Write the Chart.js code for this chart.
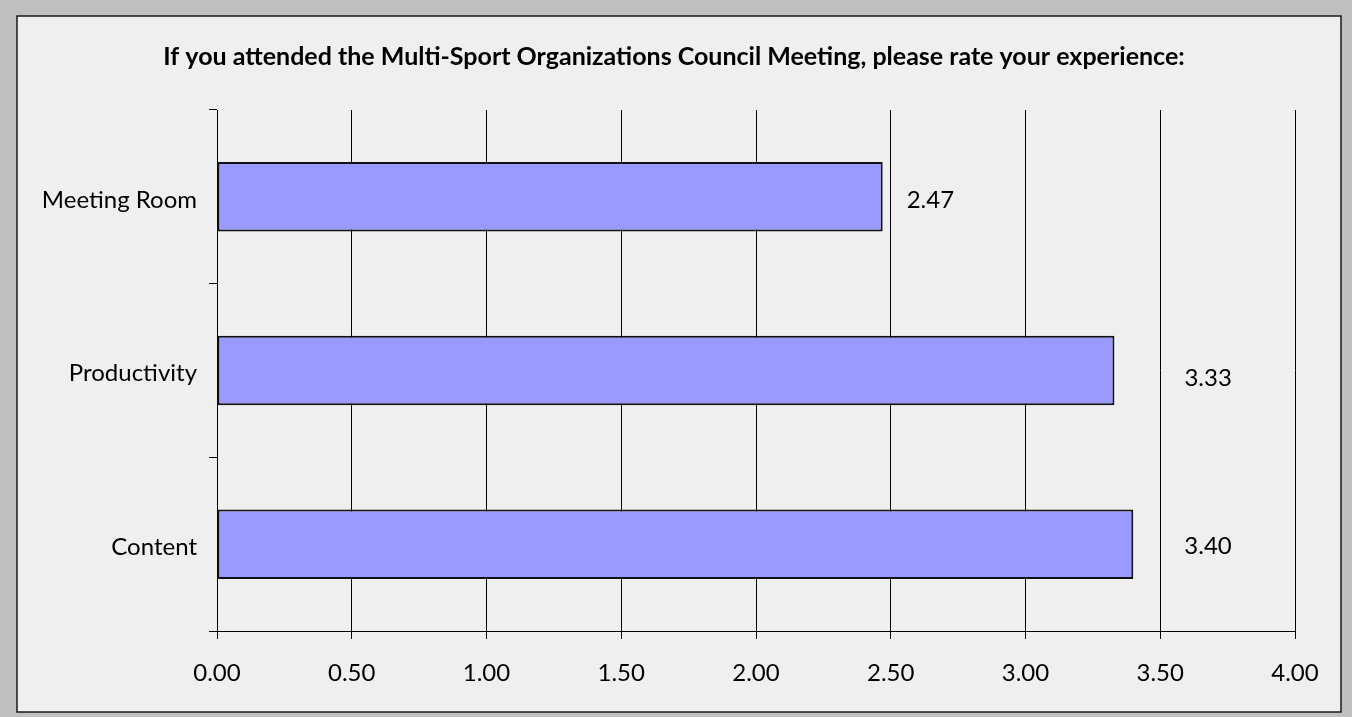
<!DOCTYPE html>
<html>
<head>
<meta charset="utf-8">
<script src="https://cdn.jsdelivr.net/npm/chart.js@4.4.1/dist/chart.umd.min.js"></script>
<style>
  html, body { margin: 0; padding: 0; background: #c0c0c0; }
  canvas { display: block; }
</style>
</head>
<body>
<canvas id="chartBar" width="1352" height="717"></canvas>
<script>
// data
const categories = ['Meeting Room', 'Productivity', 'Content'];
const ratings = [2.47, 3.33, 3.40];
const titleText = 'If you attended the Multi-Sport Organizations Council Meeting, please rate your experience:';

// label nudges (Excel labels were moved by hand)
const labelOffsets = [[24, 3], [70, 8], [51, 2]];

const fontFamily = 'Lato, "Open Sans", sans-serif';

const ctxBar = document.getElementById('chartBar').getContext('2d');

new Chart(ctxBar, {
    type: 'bar',
    data: {
        labels: categories,
        datasets: [{
            data: ratings,
            backgroundColor: '#9999ff',
            borderColor: '#111',
            borderWidth: 2,
            borderSkipped: false,
            barPercentage: 0.4,
            categoryPercentage: 1
        }]
    },
    options: {
        indexAxis: 'y',
        responsive: false,
        animation: false,
        layout: {
            padding: {left: 0, right: 57, top: 110, bottom: 0}
        },
        plugins: {
            legend: {display: false},
            tooltip: {enabled: false}
        },
        scales: {
            x: {
                min: 0,
                max: 4,
                afterFit(scale) { scale.height = 86; },
                ticks: {
                    stepSize: 0.5,
                    padding: 20,
                    color: '#000',
                    font: {family: fontFamily, size: 24},
                    callback: v => Number(v).toFixed(2)
                },
                grid: {
                    color: '#000',
                    lineWidth: 1,
                    tickLength: 8
                },
                border: {display: true, color: '#000', width: 1}
            },
            y: {
                afterFit(scale) { scale.width = 217; },
                ticks: {
                    padding: 12,
                    labelOffset: 3,
                    color: '#000',
                    font: {family: fontFamily, size: 24}
                },
                grid: {
                    offset: true,
                    drawOnChartArea: false,
                    color: '#000',
                    tickLength: 8
                },
                border: {display: true, color: '#000', width: 1}
            }
        }
    },
    plugins: [{
        id: 'panel',
        beforeDraw({ctx, width, height}) {
            ctx.save();
            ctx.fillStyle = '#c0c0c0';
            ctx.fillRect(0, 0, width, height);
            ctx.fillStyle = '#efefef';
            ctx.fillRect(17, 16, 1324, 696);
            ctx.strokeStyle = '#1a1a1a';
            ctx.lineWidth = 1.5;
            ctx.strokeRect(17, 16, 1324, 696);
            ctx.restore();
        },
        afterDraw(chart) {
            const {ctx} = chart;
            ctx.save();
            ctx.fillStyle = '#000';
            ctx.font = 'bold 25px ' + fontFamily;
            ctx.textAlign = 'center';
            ctx.textBaseline = 'middle';
            ctx.fillText(titleText, 674, 57);

            ctx.font = '24px ' + fontFamily;
            ctx.textAlign = 'left';
            chart.getDatasetMeta(0).data.forEach((bar, i) => {
                const [dx, dy] = labelOffsets[i];
                ctx.fillText(ratings[i].toFixed(2), bar.x + dx, bar.y + dy);
            });
            ctx.restore();
        }
    }]
});
</script>
</body>
</html>
